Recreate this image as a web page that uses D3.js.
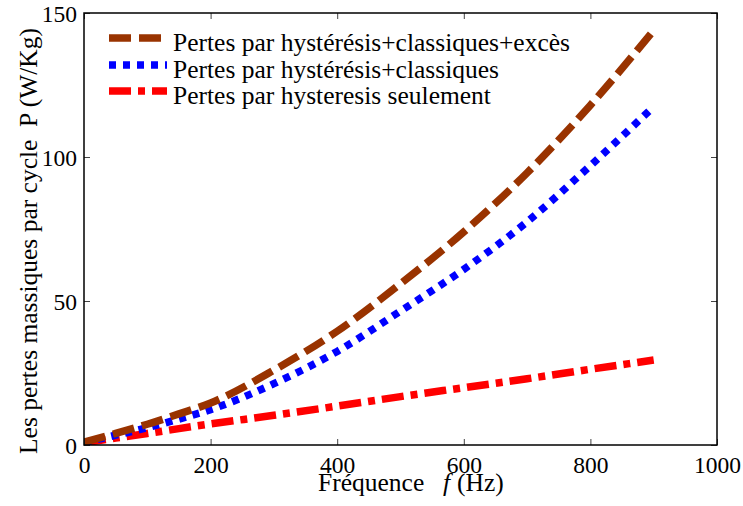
<!DOCTYPE html>
<html>
<head>
<meta charset="utf-8">
<script src="https://cdn.jsdelivr.net/npm/d3@7"></script>
<style>
  html, body { margin: 0; padding: 0; background: #fff; }
  svg { display: block; }
</style>
</head>
<body>
<svg id="chart" width="743" height="506"></svg>
<script>
// Frequency samples (Hz)
const frequencies = [0, 50, 100, 150, 200, 300, 400, 500, 600, 700, 800, 900];
// Specific losses per cycle P (W/Kg)
const totalLosses      = [1.0, 4.0, 7.2, 10.8, 14.6, 26.0, 39.5, 56, 74, 94.5, 118, 144];
const hystClassLosses  = [0.8, 3.4, 6.0, 9.0, 12.3, 21.3, 32.5, 46.5, 61, 77.5, 97, 117.5];
const hystOnlyLosses   = [0.8, 2.4, 4.0, 5.7, 7.3, 10.3, 13.5, 16.8, 19.9, 23.0, 26.3, 29.5];

const seriesNames = [
  "Pertes par hystérésis+classiques+excès",
  "Pertes par hystérésis+classiques",
  "Pertes par hysteresis seulement"
];
const xTicks = [0, 200, 400, 600, 800, 1000];
const yTicks = [0, 50, 100, 150];

const series = [
  { name: seriesNames[0], values: totalLosses,     color: "#993300", dash: "22,8" },
  { name: seriesNames[1], values: hystClassLosses, color: "#0000ff", dash: "7,7" },
  { name: seriesNames[2], values: hystOnlyLosses,  color: "#ff0000", dash: "22,7,7,7" }
];

const FONT = "'Liberation Serif', 'Times New Roman', Times, serif";
const svg = d3.select("#chart").attr("font-family", FONT);
const plotLeft = 84, plotRight = 717, plotTop = 13, plotBottom = 445;

const x = d3.scaleLinear().domain([0, 1000]).range([plotLeft, plotRight]);
const y = d3.scaleLinear().domain([0, 150]).range([plotBottom, plotTop]);

const tickFont = 23.5;
const labelFont = 25.5;
const tickLen = 6;

// clip region for curves
svg.append("defs").append("clipPath").attr("id", "plotClip")
  .append("rect").attr("x", plotLeft).attr("y", plotTop)
  .attr("width", plotRight - plotLeft).attr("height", plotBottom - plotTop);

// curves
const line = d3.line()
  .x((d, i) => x(frequencies[i]))
  .y(d => y(d))
  .curve(d3.curveMonotoneX);

const curves = svg.append("g").attr("clip-path", "url(#plotClip)");
// hysteresis-only curve first so it lies underneath
[series[2], series[1], series[0]].forEach(s => {
  curves.append("path")
    .attr("d", line(s.values))
    .attr("fill", "none")
    .attr("stroke", s.color)
    .attr("stroke-width", 7.5)
    .attr("stroke-dasharray", s.dash)
    .attr("stroke-linecap", "butt");
});

// axes: inward ticks on all four sides
const fmt = d3.format("d");
const axisBottom = d3.axisBottom(x).tickValues(xTicks).tickFormat(fmt).tickSizeInner(-tickLen).tickSizeOuter(0).tickPadding(11);
const axisTop = d3.axisTop(x).tickValues(xTicks).tickSizeInner(-tickLen).tickSizeOuter(0).tickFormat("");
const axisLeft = d3.axisLeft(y).tickValues(yTicks).tickFormat(fmt).tickSizeInner(-tickLen).tickSizeOuter(0).tickPadding(12);
const axisRight = d3.axisRight(y).tickValues(yTicks).tickSizeInner(-tickLen).tickSizeOuter(0).tickFormat("");

function styleAxis(g) {
  g.attr("font-family", FONT).attr("font-size", tickFont);
  g.select(".domain").remove();
  g.selectAll(".tick line").attr("stroke", "#444").attr("stroke-width", 1);
  g.selectAll(".tick text").attr("font-family", FONT).attr("font-size", tickFont).attr("fill", "#000");
}

svg.append("g").attr("transform", `translate(0,${plotBottom})`).call(axisBottom).call(styleAxis)
  .selectAll(".tick text").attr("dy", "0.71em");
svg.append("g").attr("transform", `translate(0,${plotTop})`).call(axisTop).call(styleAxis);
svg.append("g").attr("transform", `translate(${plotLeft},0)`).call(axisLeft).call(styleAxis)
  .selectAll(".tick text").attr("x", -7).attr("dy", "0.38em");
svg.append("g").attr("transform", `translate(${plotRight},0)`).call(axisRight).call(styleAxis);

// frame
svg.append("rect")
  .attr("x", plotLeft).attr("y", plotTop)
  .attr("width", plotRight - plotLeft).attr("height", plotBottom - plotTop)
  .attr("fill", "none").attr("stroke", "#000").attr("stroke-width", 1.5);

// legend
const legendX0 = 109, legendX1 = 167, textX = 173;
const rowY = [38, 65, 91];
const legend = svg.append("g");
series.forEach((s, i) => {
  legend.append("line")
    .attr("x1", legendX0).attr("x2", legendX1)
    .attr("y1", rowY[i]).attr("y2", rowY[i])
    .attr("stroke", s.color).attr("stroke-width", 7.5)
    .attr("stroke-dasharray", s.dash);
  legend.append("text")
    .attr("x", textX).attr("y", rowY[i] + 13)
    .attr("font-family", FONT)
    .attr("font-size", labelFont)
    .attr("fill", "#000")
    .text(s.name);
});

// axis titles
const xTitle = svg.append("text")
  .attr("x", 318).attr("y", 491)
  .attr("font-family", FONT)
  .attr("font-size", labelFont)
  .attr("fill", "#000");
xTitle.append("tspan").text("Fréquence");
xTitle.append("tspan").attr("x", 443).attr("font-style", "italic").text("f");
xTitle.append("tspan").attr("x", 457).text("(Hz)");

svg.append("text")
  .attr("transform", "translate(37,241) rotate(-90)")
  .attr("text-anchor", "middle")
  .attr("font-family", FONT)
  .attr("font-size", labelFont)
  .attr("fill", "#000")
  .text("Les pertes massiques par cycle\u00a0\u00a0P (W/Kg)");
</script>
</body>
</html>
